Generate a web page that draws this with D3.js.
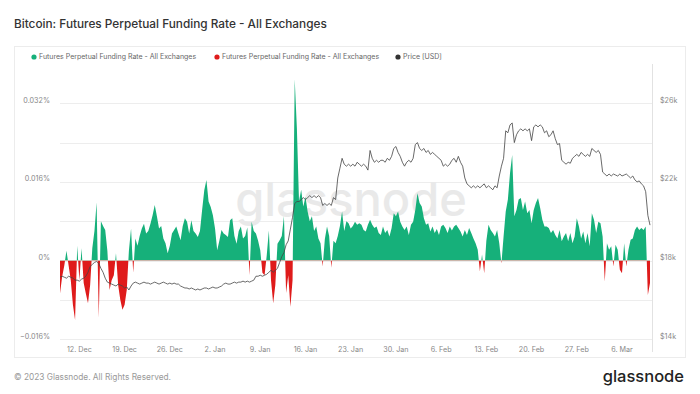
<!DOCTYPE html>
<html>
<head>
<meta charset="utf-8">
<script src="https://cdn.jsdelivr.net/npm/d3@7"></script>
<style>
  body { margin: 0; background: #fff; }
  svg { display: block; font-family: Inter, "Noto Sans", sans-serif; }
</style>
</head>
<body>
<svg id="chart" width="700" height="394"></svg>
<script>
// funding rate, in units of 0.001 %, one value every 8 hours from 9 Dec 2022
var fundingRate = [
  -6.7,-3.3,-1.0,2.0,-1.0,-4.0,-9.0,-12.1,3.0,-4.0,
  2.5,-4.6,-6.7,-8.7,-5.0,2.5,6.0,11.8,-11.7,8.0,
  7.0,6.2,2.0,-6.0,-4.0,-3.0,1.5,-5.0,-8.0,-10.0,
  -9.0,-6.0,2.0,6.5,-2.5,4.5,3.0,5.0,6.5,7.5,
  5.5,6.0,7.5,9.2,11.3,9.0,6.5,7.0,4.5,3.5,
  1.5,3.0,5.5,6.2,6.9,5.5,4.1,7.0,8.6,7.9,
  5.5,8.2,6.0,5.5,4.8,6.0,10.3,14.3,16.4,12.0,
  10.9,9.2,6.5,2.1,4.0,6.2,5.5,5.2,4.8,8.2,
  8.6,5.0,3.4,6.0,6.9,4.5,5.0,6.7,-3.0,7.9,
  6.0,5.5,4.0,2.1,-2.5,-3.0,1.0,6.1,-4.0,-8.7,
  -5.0,3.4,4.1,5.0,9.0,-6.6,-3.0,-9.4,-4.0,36.9,
  27.0,12.0,14.4,11.0,13.0,10.0,8.0,9.0,6.0,6.9,
  4.5,3.5,-1.2,4.4,6.9,5.0,-1.5,4.0,3.5,5.0,
  7.0,10.0,6.0,8.0,7.6,6.5,7.0,7.9,7.3,7.6,
  7.3,6.2,5.9,7.3,8.3,7.3,6.6,6.9,5.6,5.2,
  6.9,5.6,6.2,4.9,6.6,9.6,9.0,10.0,7.9,6.9,
  6.2,6.9,5.2,7.3,7.9,10.3,13.7,11.7,11.0,8.6,
  7.3,7.6,5.9,6.9,5.6,6.4,5.2,6.9,7.3,6.6,
  5.6,6.9,6.1,6.9,7.3,6.6,5.9,4.9,6.2,5.2,
  6.6,5.6,4.5,3.5,2.2,-2.2,1.2,-2.6,4.0,7.3,
  6.2,5.6,4.9,6.2,3.5,-0.6,4.9,10.0,12.4,17.8,
  21.5,9.0,10.3,12.4,12.7,10.3,12.0,9.6,10.3,7.6,
  10.3,11.7,12.7,10.7,8.3,6.9,6.9,6.6,5.6,6.2,
  5.2,4.5,6.2,3.9,4.9,5.6,3.9,5.6,3.5,4.9,
  8.6,6.9,4.5,5.9,3.5,5.6,2.9,9.6,8.3,5.6,
  7.9,7.6,4.9,-4.3,3.5,2.2,2.9,-1.2,3.2,2.2,
  -1.9,-2.6,3.5,-1.2,2.2,4.2,4.5,6.2,6.9,6.2,
  6.6,6.2,6.9,-7.0,-4.6
];

// BTC price in thousand USD, same timestamps
var priceK = [
  17.15,17.2,17.15,17.1,17.2,17.15,17.1,17.0,17.0,16.95,
  17.05,17.1,17.2,17.4,17.7,17.8,17.9,17.95,17.85,17.6,
  17.4,17.1,16.9,16.85,16.8,16.75,16.7,16.8,16.75,16.7,
  16.6,16.65,16.5,16.7,16.85,16.9,16.85,16.8,16.85,16.9,
  16.85,16.85,16.8,16.85,16.9,16.85,16.8,16.85,16.9,16.85,
  16.8,16.85,16.8,16.85,16.8,16.8,16.7,16.65,16.6,16.6,
  16.55,16.6,16.55,16.5,16.55,16.5,16.55,16.6,16.6,16.55,
  16.6,16.65,16.6,16.6,16.65,16.7,16.8,16.85,16.8,16.8,
  16.85,16.9,16.85,16.9,16.9,16.95,16.9,16.95,16.9,16.95,
  17.0,17.2,17.2,17.25,17.2,17.25,17.3,17.4,17.5,17.4,
  17.5,17.6,17.9,18.2,18.4,18.8,19.0,19.6,20.2,20.9,
  21.0,21.0,21.1,21.2,21.1,21.2,21.3,21.2,21.3,21.2,
  21.3,21.2,20.8,20.9,20.8,20.9,20.8,21.2,21.1,22.2,
  22.7,23.2,22.9,22.8,22.9,22.8,22.9,22.8,23.0,22.9,
  22.8,22.9,22.8,22.6,23.6,23.2,23.0,23.1,23.0,23.1,
  23.1,23.0,23.2,23.1,23.3,23.7,23.8,23.5,23.3,23.0,
  22.8,23.0,23.1,23.0,23.2,23.9,24.0,23.7,23.6,23.7,
  23.5,23.6,23.4,23.5,23.4,23.3,23.2,23.1,22.8,22.9,
  22.8,22.9,23.1,23.2,23.0,23.3,23.0,22.8,22.2,21.9,
  21.8,21.7,21.8,21.7,21.8,21.7,21.8,21.9,21.7,21.8,
  21.7,21.6,21.8,21.7,22.3,22.8,23.2,24.6,24.5,24.9,
  25.0,24.0,24.4,24.6,24.7,24.6,24.7,24.6,24.7,24.1,
  24.8,24.9,24.8,24.9,24.8,24.5,24.6,24.3,24.4,24.6,
  24.2,23.9,23.95,23.1,23.0,22.9,23.0,22.95,23.2,23.3,
  23.4,23.3,23.5,23.4,23.3,23.4,23.3,23.7,23.6,23.5,
  23.6,23.4,22.5,22.4,22.3,22.4,22.3,22.4,22.35,22.3,
  22.4,22.3,22.35,22.4,22.3,22.2,22.3,22.1,22.0,22.05,
  21.9,21.8,21.5,20.3,19.8
];

var startTime = Date.UTC(2022, 11, 9);
var stepMs = 8 * 3600 * 1000;

var leftTicks = [-16, 0, 16, 32];          // 0.001 % units
var rightTicks = [14, 18, 22, 26];          // $k
var gridTicks = [-16, -8, 0, 8, 16, 24, 32];

var legendLabels = [
  "Futures Perpetual Funding Rate - All Exchanges",
  "Futures Perpetual Funding Rate - All Exchanges",
  "Price [USD]"
];

var green = "#16b07a", red = "#df1b1b";

var data = fundingRate.map(function(v, i) {
  return { t: new Date(startTime + i * stepMs), f: v, p: priceK[i] };
});

var svg = d3.select("#chart");

var plotLeft = 60, plotRight = 650, plotTop = 103.3, plotBottom = 339.1;

var x = d3.scaleUtc()
  .domain([data[0].t, data[data.length - 1].t])
  .range([plotLeft, plotRight]);
var y = d3.scaleLinear().domain([-16, 32]).range([plotBottom, plotTop]);
var yPrice = d3.scaleLinear().domain([14, 26]).range([plotBottom, plotTop]);

// title
svg.append("text").attr("x", 14).attr("y", 28)
  .text("Bitcoin: Futures Perpetual Funding Rate - All Exchanges")
  .style("font-size", "11.8px").style("fill", "#333").style("font-weight", 500);

// frame
svg.append("rect").attr("x", 14.5).attr("y", 46.5).attr("width", 671).attr("height", 311)
  .attr("fill", "none").attr("stroke", "#ececec");

// legend
var legendX = [34, 217, 398];
var legendCol = [green, red, "#333"];
legendLabels.forEach(function(l, i) {
  svg.append("circle").attr("cx", legendX[i]).attr("cy", 57).attr("r", 2.6).style("fill", legendCol[i]);
  svg.append("text").attr("x", legendX[i] + 5).attr("y", 57).attr("dy", "0.35em")
    .text(l).style("font-size", "7px").style("fill", "#666");
});

// grid
svg.selectAll(".grid").data(gridTicks).enter().append("line")
  .attr("x1", plotLeft).attr("x2", 652)
  .attr("y1", function(d) { return Math.round(y(d)) + 0.5; })
  .attr("y2", function(d) { return Math.round(y(d)) + 0.5; })
  .attr("stroke", "#ededed");

// right axis line
svg.append("line").attr("x1", 652.5).attr("x2", 652.5).attr("y1", 64).attr("y2", 352)
  .attr("stroke", "#e2e2e2");

// watermark
svg.append("text").attr("x", 351).attr("y", 216).attr("text-anchor", "middle")
  .text("glassnode").style("font-size", "47px").style("fill", "#e9e9e9").style("font-weight", 500);

// funding area, split by sign with clip paths
var defs = svg.append("defs");
defs.append("clipPath").attr("id", "above").append("rect")
  .attr("x", 0).attr("y", 0).attr("width", 700).attr("height", y(0));
defs.append("clipPath").attr("id", "below").append("rect")
  .attr("x", 0).attr("y", y(0)).attr("width", 700).attr("height", 394 - y(0));

var area = d3.area()
  .x(function(d) { return x(d.t); })
  .y0(y(0))
  .y1(function(d) { return y(d.f); });

svg.append("path").datum(data).attr("d", area).attr("fill", green).attr("clip-path", "url(#above)");
svg.append("path").datum(data).attr("d", area).attr("fill", red).attr("clip-path", "url(#below)");

// price line
var line = d3.line()
  .x(function(d) { return x(d.t); })
  .y(function(d) { return yPrice(d.p); });
svg.append("path").datum(data).attr("d", line)
  .attr("fill", "none").attr("stroke", "#444").attr("stroke-width", 0.8);

// left axis labels
svg.selectAll(".lt").data(leftTicks).enter().append("text")
  .attr("x", 50).attr("y", function(d) { return y(d) - 3; }).attr("dy", "0.35em")
  .attr("text-anchor", "end")
  .text(function(d) { return d === 0 ? "0%" : d3.format(".3f")(d / 1000) + "%"; })
  .style("font-size", "7.2px").style("fill", "#888");

// right axis labels
svg.selectAll(".rt").data(rightTicks).enter().append("text")
  .attr("x", 660).attr("y", function(d) { return yPrice(d) - 3; }).attr("dy", "0.35em")
  .text(function(d) { return "$" + d + "k"; })
  .style("font-size", "7.2px").style("fill", "#888");

// x axis labels
var xTicks = d3.utcMonday.range(new Date(Date.UTC(2022, 11, 12)), new Date(Date.UTC(2023, 2, 10)));
var fmt = d3.utcFormat("%-d. %b");
svg.selectAll(".xt").data(xTicks).enter().append("text")
  .attr("x", function(d) { return x(d); }).attr("y", 349.5).attr("dy", "0.35em")
  .attr("text-anchor", "middle")
  .text(function(d) { return fmt(d); })
  .style("font-size", "7.2px").style("fill", "#888");

// footer
svg.append("text").attr("x", 14).attr("y", 377).attr("dy", "0.35em")
  .text("\u00a9 2023 Glassnode. All Rights Reserved.")
  .style("font-size", "8.3px").style("fill", "#999");
svg.append("text").attr("x", 684).attr("y", 376).attr("dy", "0.35em").attr("text-anchor", "end")
  .text("glassnode").style("font-size", "16.5px").style("fill", "#222").style("font-weight", 500);
</script>
</body>
</html>
